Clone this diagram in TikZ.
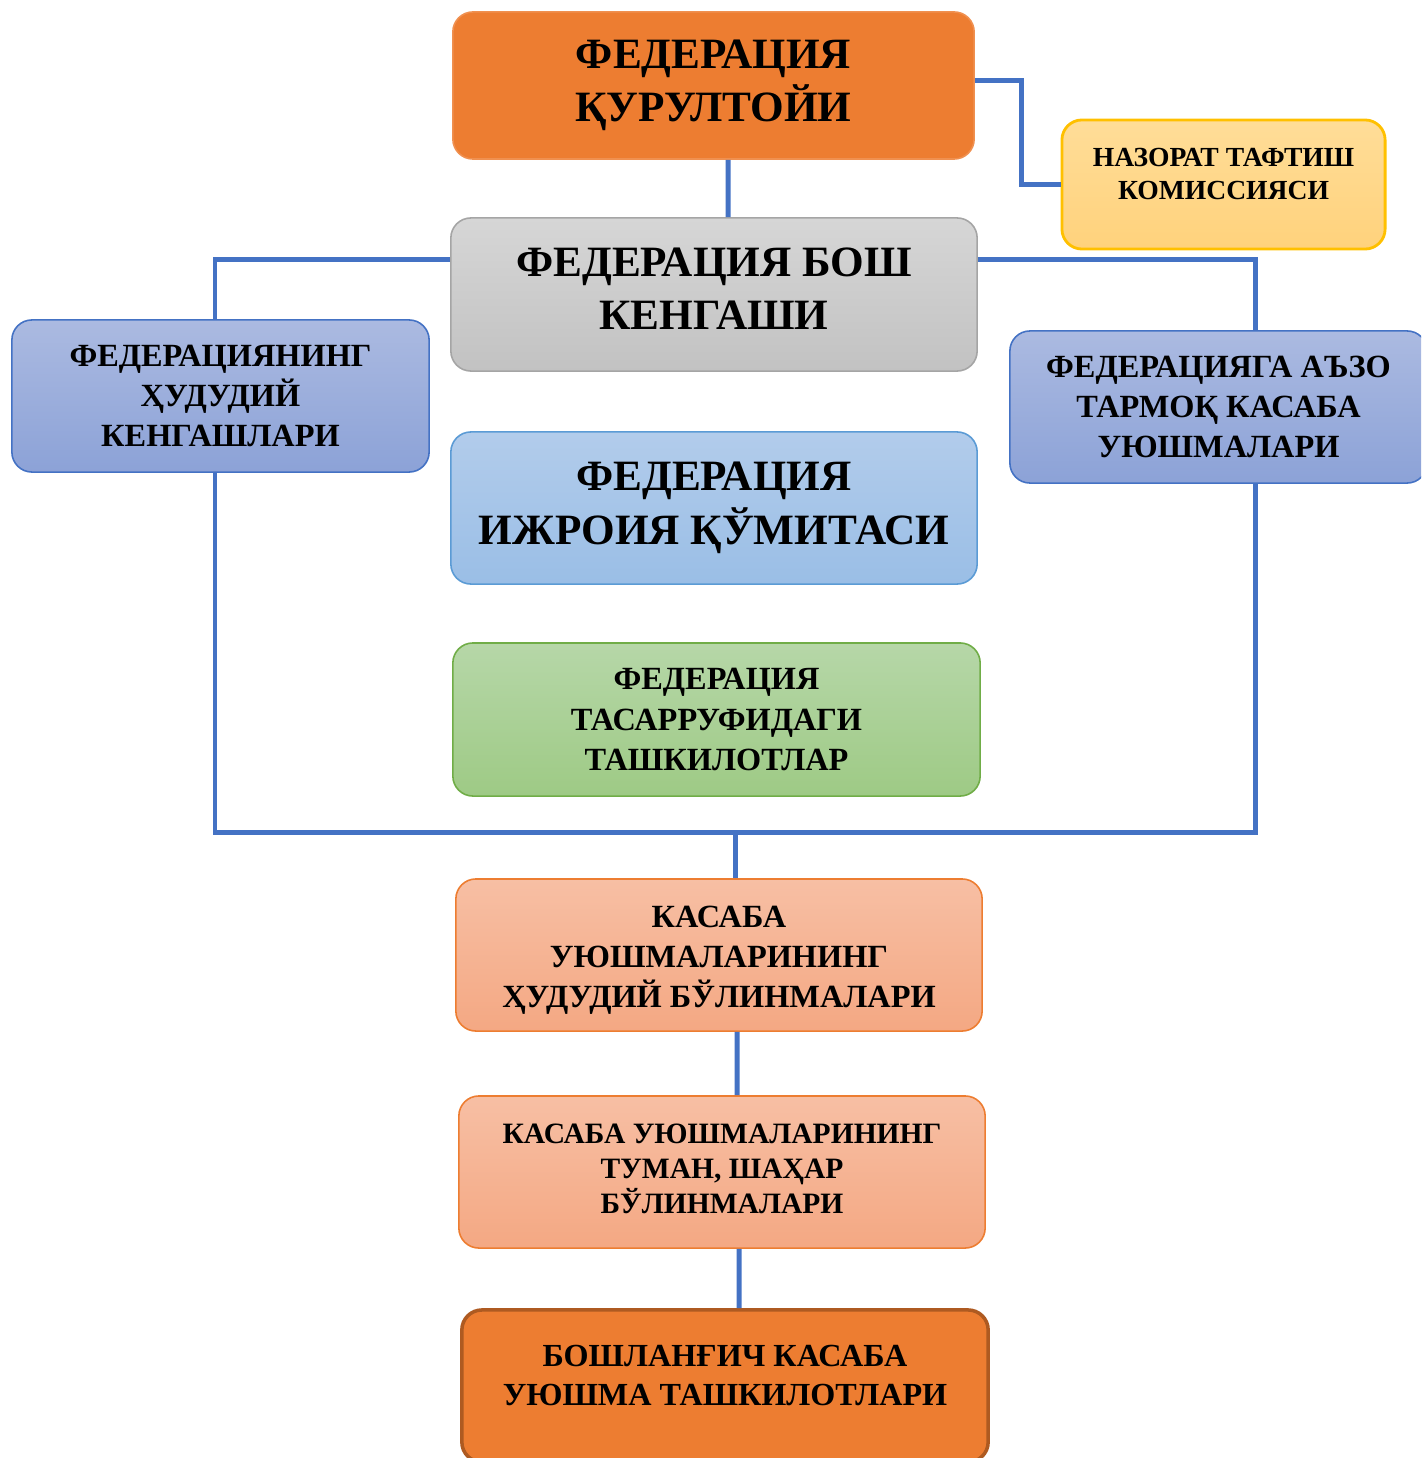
\documentclass[tikz,border=0pt]{standalone}
\usepackage{fontspec}
\setmainfont{Liberation Serif}

\definecolor{linkblue}{HTML}{4472C4}
\definecolor{deeporange}{HTML}{ED7D31}
\definecolor{deeporangeline}{HTML}{AE5A21}
\definecolor{goldtop}{HTML}{FFDD98}
\definecolor{goldbottom}{HTML}{FFD27C}
\definecolor{goldline}{HTML}{FFC000}
\definecolor{greytop}{HTML}{D6D6D6}
\definecolor{greybottom}{HTML}{C2C2C2}
\definecolor{greyline}{HTML}{A5A5A5}
\definecolor{navytop}{HTML}{ABBAE1}
\definecolor{navybottom}{HTML}{8CA2D7}
\definecolor{skytop}{HTML}{B2CCEB}
\definecolor{skybottom}{HTML}{9ABEE6}
\definecolor{skyline}{HTML}{5B9BD5}
\definecolor{leaftop}{HTML}{B6D7A8}
\definecolor{leafbottom}{HTML}{9ECA85}
\definecolor{leafline}{HTML}{70AD47}
\definecolor{salmontop}{HTML}{F7BFA4}
\definecolor{salmonbottom}{HTML}{F4A883}

\begin{document}
\begin{tikzpicture}[x=0.01cm, y=-0.01cm]
    \tikzset{box/.style={rectangle, rounded corners=0.2cm, line width=0.45pt,
        align=center, inner sep=0pt, minimum width=5.26cm, minimum height=1.52cm}}
    \tikzset{big text/.style={font=\fontsize{12.3}{15.2}\selectfont\bfseries}}
    \tikzset{mid text/.style={font=\fontsize{9.2}{11.4}\selectfont\bfseries}}
    \tikzset{small text/.style={font=\fontsize{7.85}{9.4}\selectfont\bfseries}}
    \tikzset{head box/.style={box, fill=deeporange, draw=deeporange!85!white}}
    \tikzset{base box/.style={box, fill=deeporange, draw=deeporangeline, line width=1pt}}
    \tikzset{audit box/.style={box, top color=goldtop, bottom color=goldbottom, draw=goldline, line width=0.8pt}}
    \tikzset{council box/.style={box, top color=greytop, bottom color=greybottom, draw=greyline}}
    \tikzset{member box/.style={box, top color=navytop, bottom color=navybottom, draw=linkblue, minimum width=4.17cm}}
    \tikzset{board box/.style={box, top color=skytop, bottom color=skybottom, draw=skyline}}
    \tikzset{unit box/.style={box, top color=leaftop, bottom color=leafbottom, draw=leafline}}
    \tikzset{branch box/.style={box, top color=salmontop, bottom color=salmonbottom, draw=deeporange}}
    \tikzset{link/.style={draw=linkblue, line width=1.42pt}}

    \clip (0,0) rectangle (1421,1458);

    \node (kurultoy) [head box, big text, minimum width=5.21cm, minimum height=1.47cm] at (713.5,85.5) {ФЕДЕРАЦИЯ\\ҚУРУЛТОЙИ};
    \node (nazorat) [audit box, small text, minimum width=3.23cm, minimum height=1.29cm, text depth=0.22cm] at (1223.5,184.5) {НАЗОРАТ ТАФТИШ\\КОМИССИЯСИ};
    \node (kengash) [council box, big text, minimum height=1.53cm, text depth=0.12cm] at (714,294.5) {ФЕДЕРАЦИЯ БОШ\\КЕНГАШИ};
    \node (hudud) [member box, mid text] at (220.5,396) {ФЕДЕРАЦИЯНИНГ\\ҲУДУДИЙ\\КЕНГАШЛАРИ};
    \node (tarmoq) [member box, mid text] at (1218.5,407) {ФЕДЕРАЦИЯГА АЪЗО\\ТАРМОҚ КАСАБА\\УЮШМАЛАРИ};
    \node (ijroiya) [board box, big text] at (714,508) {ФЕДЕРАЦИЯ\\ИЖРОИЯ ҚЎМИТАСИ};
    \node (tasarruf) [unit box, mid text, minimum width=5.27cm, minimum height=1.53cm] at (716.5,719.5) {ФЕДЕРАЦИЯ\\ТАСАРРУФИДАГИ\\ТАШКИЛОТЛАР};
    \node (bulinma) [branch box, mid text, text height=1.12cm] at (719,955) {КАСАБА\\УЮШМАЛАРИНИНГ\\ҲУДУДИЙ БЎЛИНМАЛАРИ};
    \node (tuman) [branch box, font=\fontsize{8.4}{10}\selectfont\bfseries, text depth=0.06cm] at (722,1172) {КАСАБА УЮШМАЛАРИНИНГ\\ТУМАН, ШАҲАР\\БЎЛИНМАЛАРИ};
    \node (boshlang) [base box, font=\fontsize{9.15}{11.1}\selectfont\bfseries, text depth=0.22cm] at (725,1386) {БОШЛАНҒИЧ КАСАБА\\УЮШМА ТАШКИЛОТЛАРИ};
    \coordinate (joint) at (735,832);

    \draw [link] ([xshift=0.145cm]kurultoy.south) -- ([xshift=0.14cm]kengash.north);
    \draw [link] ([yshift=0.045cm]kurultoy.east) -- ++(47,0) |- (nazorat.west);
    \draw [link] ([yshift=0.345cm]kengash.west) -| ([xshift=-0.055cm]hudud.north);
    \draw [link] ([yshift=0.345cm]kengash.east) -| ([xshift=0.365cm]tarmoq.north);
    \draw [link] ([xshift=-0.055cm]hudud.south) |- (joint) -| ([xshift=0.365cm]tarmoq.south);
    \draw [link] (joint) -- (joint |- bulinma.north);
    \draw [link] ([xshift=0.18cm]bulinma.south) -- ([xshift=0.15cm]tuman.north);
    \draw [link] ([xshift=0.17cm]tuman.south) -- ([xshift=0.14cm]boshlang.north);
\end{tikzpicture}
\end{document}
